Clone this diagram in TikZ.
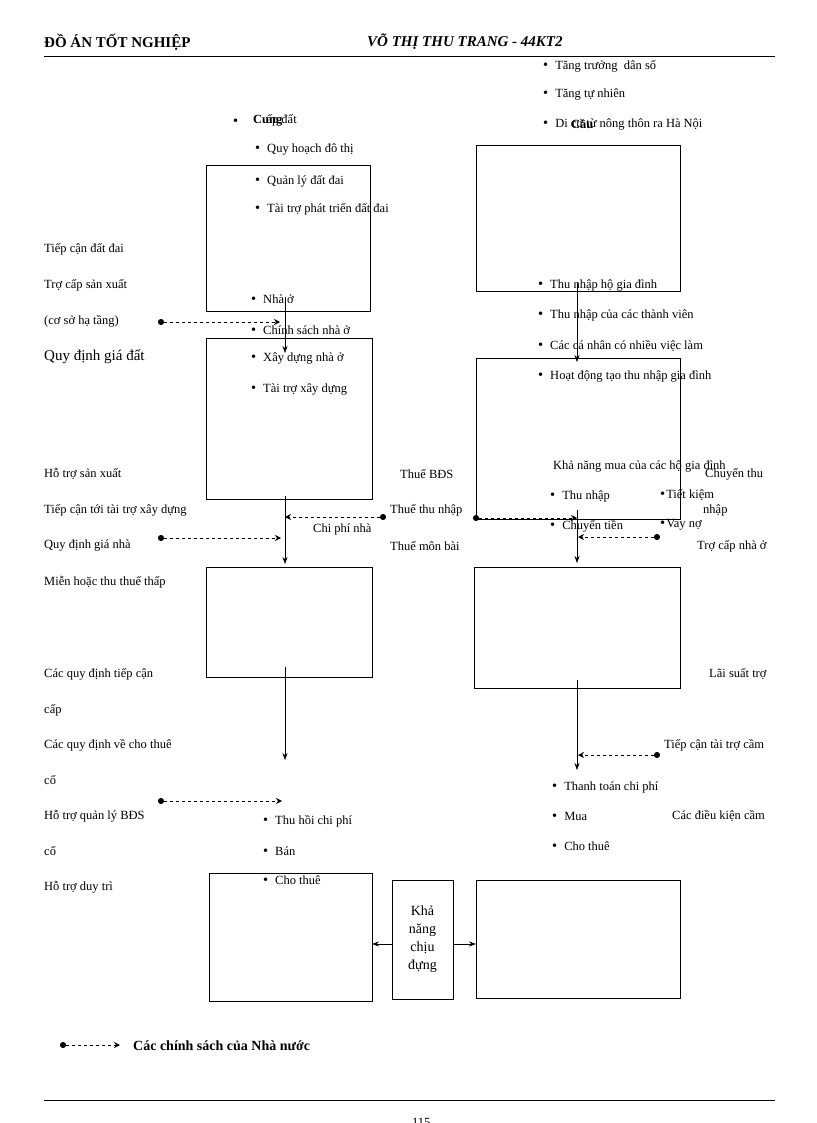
\documentclass[tikz,border=0pt]{standalone}
\usepackage{fontspec}
\setmainfont{Liberation Serif}
\usetikzlibrary{arrows.meta}
\begin{document}
\begin{tikzpicture}[x=1pt,y=-1pt,
  box/.style={draw,line width=0.6pt},
  lbl/.style={anchor=west,inner sep=0pt,font=\fontsize{12.5}{14}\selectfont},
  itm/.style={anchor=west,inner sep=0pt,font=\fontsize{12.5}{14}\selectfont},
  flow/.style={-{Stealth[length=7pt,width=5pt]},line width=0.5pt},
  policy/.style={{Circle[length=6pt]}-{Stealth[length=6pt,width=6pt]},dashed,line width=0.9pt}]
\useasboundingbox (0,0) rectangle (816,1123);
\newcommand{\bul}{{\Large\textbullet}\hspace{7pt}}
% header and footer
\node[lbl,font=\bfseries\fontsize{15}{17}\selectfont] (hl) at (44,42) {ĐỒ ÁN TỐT NGHIỆP};
\node[lbl,font=\bfseries\itshape\fontsize{15}{17}\selectfont] (hr) at (367,42) {VÕ THỊ THU TRANG - 44KT2};
\draw[line width=1pt] (44,57) -- (775,57);
\draw[line width=1pt] (44,1100) -- (775,1100);
\node[lbl] (pg) at (412,1122) {115};
% boxes
\draw[box] (206,165) rectangle (370,311);
\draw[box] (206,338) rectangle (372,499);
\draw[box] (206,567) rectangle (372,677);
\draw[box] (209,873) rectangle (372,1001);
\draw[box] (476,145) rectangle (680,291);
\draw[box] (476,358) rectangle (680,519);
\draw[box] (474,567) rectangle (680,688);
\draw[box] (476,880) rectangle (680,998);
\node[box,minimum width=61pt,minimum height=119pt,inner sep=0pt,align=center,font=\fontsize{14}{18}\selectfont] (kn) at (422.5,939.5) {Khả\\năng\\chịu\\đựng};
\coordinate (l4) at (372,944);
\coordinate (r4) at (476,944);
\draw[flow] (kn.west|-l4) -- (l4);
\draw[flow] (kn.east|-r4) -- (r4);
% vertical flows
\coordinate (a1) at (285,297); \coordinate (a2) at (285,353);
\coordinate (a3) at (285,496); \coordinate (a4) at (285,564);
\coordinate (a5) at (285,667); \coordinate (a6) at (285,760);
\coordinate (b1) at (577,283); \coordinate (b2) at (577,362);
\coordinate (b3) at (577,510); \coordinate (b4) at (577,563);
\coordinate (b5) at (577,680); \coordinate (b6) at (577,770);
\foreach \s/\t in {a1/a2,a3/a4,a5/a6,b1/b2,b3/b4,b5/b6} \draw[flow] (\s) -- (\t);
% policy arrows
\coordinate (p1) at (158,322); \coordinate (q1) at (280,322);
\coordinate (p2) at (386,517); \coordinate (q2) at (285,517);
\coordinate (p3) at (158,538); \coordinate (q3) at (281,538);
\coordinate (p4) at (473,518); \coordinate (q4) at (577,518);
\coordinate (p5) at (660,537); \coordinate (q5) at (578,537);
\coordinate (p6) at (158,801); \coordinate (q6) at (282,801);
\coordinate (p7) at (660,755); \coordinate (q7) at (578,755);
\coordinate (p8) at (60,1045); \coordinate (q8) at (120,1045);
\foreach \s/\t in {p1/q1,p2/q2,p3/q3,p4/q4,p5/q5,p6/q6,p7/q7,p8/q8} \draw[policy] (\s) -- (\t);
\node[lbl,font=\bfseries\fontsize{14}{16}\selectfont] (leg) at (133,1046) {Các chính sách của Nhà nước};
% left labels
\foreach \y/\t [count=\i] in {249/Tiếp cận đất đai,285/Trợ cấp sản xuất,321/(cơ sở hạ tầng),474/Hỗ trợ sản xuất,510/Tiếp cận tới tài trợ xây dựng,545/Quy định giá nhà,582/Miễn hoặc thu thuế thấp,674/Các quy định tiếp cận,710/cấp,745/Các quy định về cho thuê,780/cố,816/Hỗ trợ quản lý BĐS,851/cố,887/Hỗ trợ duy trì}
  \node[lbl] (left\i) at (44,\y) {\t};
\node[lbl,font=\fontsize{15}{17}\selectfont] (qdgd) at (44,357) {Quy định giá đất};
% supply items
\node[itm] (cung) at (233,122) {\bul};
\node[lbl,font=\bfseries\fontsize{12.5}{14}\selectfont] (cungt) at (253,121) {Cung};
\node[lbl] (capd) at (258,120) {\phantom{C}ấp đất};
\foreach \y/\t [count=\i] in {150/Quy hoạch đô thị,181/Quản lý đất đai,209/Tài trợ phát triển đất đai}
  \node[itm] (sup\i) at (255,\y) {\bul\t};
\foreach \y/\t [count=\i] in {299/Nhà ở,330/Chính sách nhà ở,358/Xây dựng nhà ở,389/Tài trợ xây dựng}
  \node[itm] (nha\i) at (251,\y) {\bul\t};
\foreach \y/\t [count=\i] in {821/Thu hồi chi phí,851/Bán,880/Cho thuê}
  \node[itm] (thu\i) at (263,\y) {\bul\t};
% taxes
\node[lbl] (tax1) at (400,474) {Thuế BĐS};
\node[lbl] (tax2) at (390,510) {Thuế thu nhập};
\node[lbl] (tax3) at (390,546) {Thuế môn bài};
\node[lbl] (cpn) at (313,529) {Chi phí nhà};
% demand items
\foreach \y/\t [count=\i] in {66/Tăng trưởng\enspace dân số,95/Tăng tự nhiên,125/Di cư từ nông thôn ra Hà Nội}
  \node[itm] (dem\i) at (543,\y) {\bul\t};
\node[lbl,font=\bfseries\fontsize{12.5}{14}\selectfont] (cau) at (571,124) {Cầu};
\foreach \y/\t [count=\i] in {285/Thu nhập hộ gia đình,315/Thu nhập của các thành viên,346/Các cá nhân có nhiều việc làm,376/Hoạt động tạo thu nhập gia đình}
  \node[itm] (inc\i) at (538,\y) {\bul\t};
\node[lbl] (kham) at (553,466) {Khả năng mua của các hộ gia đình};
\node[itm] (m1) at (550,496) {\bul Thu nhập};
\node[itm] (m2) at (550,526) {\bul Chuyển tiền};
\node[itm] (m3) at (660,495) {{\Large\textbullet}\hspace{1pt}Tiết kiệm};
\node[itm] (m4) at (660,525) {{\Large\textbullet}\hspace{1pt}Vay nợ};
\node[lbl] (ct) at (705,474) {Chuyển thu};
\node[lbl] (ctn) at (703,510) {nhập};
\node[lbl] (tcn) at (697,546) {Trợ cấp nhà ở};
\node[lbl] (ls) at (709,674) {Lãi suất trợ};
\node[lbl] (tctt) at (664,745) {Tiếp cận tài trợ cầm};
\node[lbl] (dkc) at (672,816) {Các điều kiện cầm};
\foreach \y/\t [count=\i] in {787/Thanh toán chi phí,816/Mua,846/Cho thuê}
  \node[itm] (pay\i) at (552,\y) {\bul\t};
\end{tikzpicture}
\end{document}
